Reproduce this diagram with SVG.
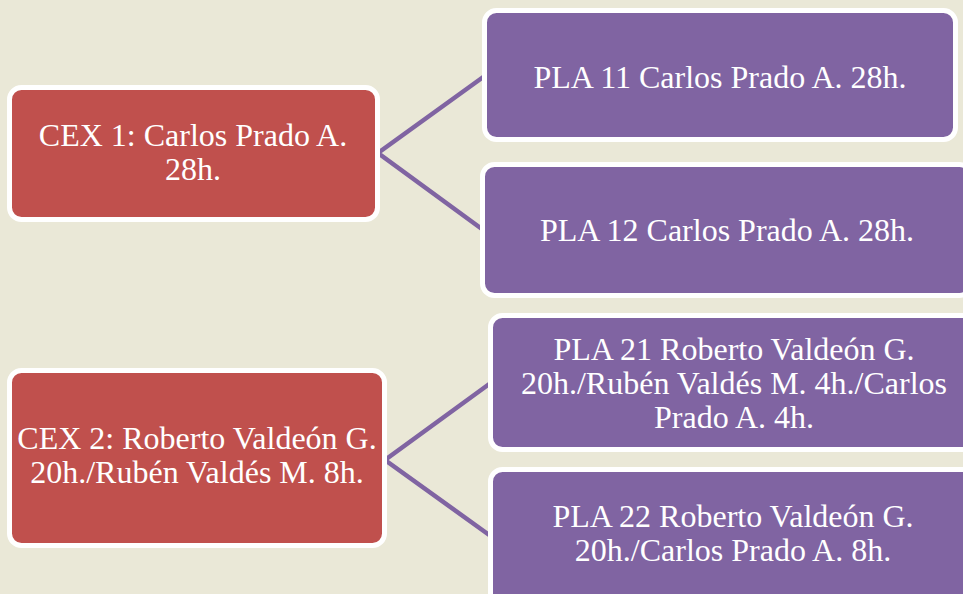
<svg xmlns="http://www.w3.org/2000/svg" width="963" height="594" viewBox="0 0 963 594">
<style>
.bg{fill:#EAE8D7}
.red{fill:#C0504D;stroke:#FFFFFF;stroke-width:5}
.pur{fill:#8064A2;stroke:#FFFFFF;stroke-width:5}
.conn{stroke:#8064A2;stroke-width:4.5;fill:none}
text{font-family:"Liberation Serif","Times New Roman",serif;font-size:32px;fill:#FFFFFF;text-anchor:middle}
</style>
<rect class="bg" x="0" y="0" width="963" height="594"/>
<g id="connectors">
<polyline class="conn" points="486,75 378,153 486,232"/>
<polyline class="conn" points="492,382 385,460 492,537"/>
</g>
<g id="cex1">
<rect class="red" x="9.5" y="87.5" width="368" height="132" rx="12"/>
<text x="193" y="146">CEX 1: Carlos Prado A.</text>
<text x="193" y="180">28h.</text>
</g>
<g id="pla11">
<rect class="pur" x="484.5" y="10.5" width="471" height="129" rx="12"/>
<text x="720" y="88">PLA 11 Carlos Prado A. 28h.</text>
</g>
<g id="pla12">
<rect class="pur" x="482.5" y="164.5" width="489" height="131" rx="12"/>
<text x="727" y="241">PLA 12 Carlos Prado A. 28h.</text>
</g>
<g id="cex2">
<rect class="red" x="9.5" y="370.5" width="375" height="175" rx="12"/>
<text x="197" y="449">CEX 2: Roberto Valdeón G.</text>
<text x="197" y="483">20h./Rubén Valdés M. 8h.</text>
</g>
<g id="pla21">
<rect class="pur" x="490.5" y="315.5" width="487" height="134" rx="12"/>
<text x="734" y="360">PLA 21 Roberto Valdeón G.</text>
<text x="734" y="394">20h./Rubén Valdés M. 4h./Carlos</text>
<text x="734" y="428">Prado A. 4h.</text>
</g>
<g id="pla22">
<rect class="pur" x="490.5" y="469.5" width="487" height="143" rx="12"/>
<text x="733" y="527">PLA 22 Roberto Valdeón G.</text>
<text x="733" y="561">20h./Carlos Prado A. 8h.</text>
</g>
</svg>
